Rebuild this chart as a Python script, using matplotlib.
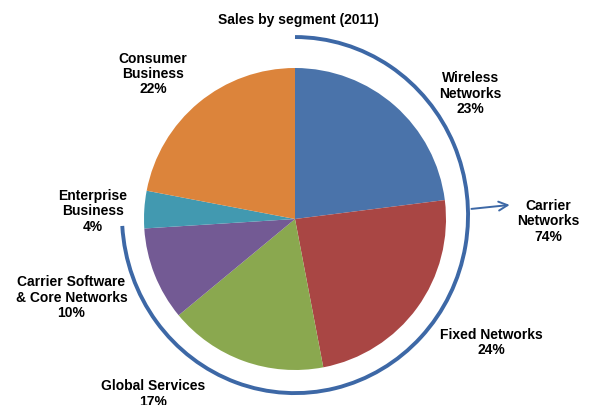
import matplotlib.pyplot as plt
from matplotlib.patches import Arc
import numpy as np

plt.rcParams['font.family'] = ['Liberation Sans', 'DejaVu Sans']

segments = ["Wireless\nNetworks", "Fixed Networks", "Global Services",
            "Carrier Software\n& Core Networks", "Enterprise\nBusiness",
            "Consumer\nBusiness"]
shares = [23, 24, 17, 10, 4, 22]
colors = ["#4a73aa", "#a94644", "#8aa84f", "#735a94", "#4299b0", "#dc843b"]
# carrier networks = first four segments
group_name = "Carrier\nNetworks"
group_share = sum(shares[:4])

# label positions (axes units, radius 1 = pie radius)
label_pos = [(1.16, 0.83), (1.30, -0.82), (-0.94, -1.16),
             (-1.48, -0.52), (-1.34, 0.05), (-0.94, 0.96)]

fig = plt.figure(figsize=(5.89, 4.05), dpi=100)
ax = fig.add_axes([0, 0, 1, 1])

ax.pie(shares, colors=colors, startangle=90, counterclock=False,
       radius=1.0, wedgeprops=dict(linewidth=0))

for name, s, (x, y) in zip(segments, shares, label_pos):
    ax.text(x, y, f"{name}\n{s}%", ha="center", va="center",
            fontsize=10, fontweight="bold", linespacing=1.12)

# bracket arc around the carrier networks segments
arc_c = (0.0, 0.026)
arc = Arc(arc_c, 2 * 1.146, 2 * 1.179, theta1=90 - 360 * group_share / 100,
          theta2=90, color="#3d68a6", lw=2.8)
ax.add_patch(arc)
ax.annotate("", xy=(1.44, 0.095), xytext=(1.15, 0.065),
            arrowprops=dict(arrowstyle="->", color="#3d68a6", lw=1.4,
                            mutation_scale=16))
ax.text(1.68, -0.015, f"{group_name}\n{group_share}%", ha="center",
        va="center", fontsize=10, fontweight="bold", linespacing=1.12)

ax.text(0.02, 1.32, "Sales by segment (2011)", ha="center", va="center",
        fontsize=10, fontweight="bold")

ax.set_xlim(-295 / 151, 294 / 151)
ax.set_ylim(-186 / 151, 219 / 151)
ax.set_aspect("equal")
ax.axis("off")

plt.savefig("out.png", dpi=100)
